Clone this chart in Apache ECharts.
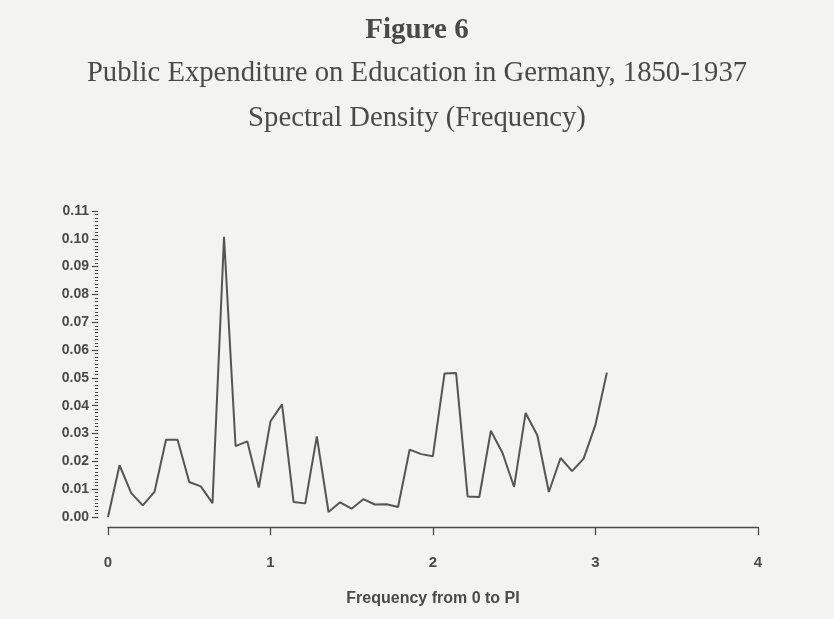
<!DOCTYPE html>
<html>
<head>
<meta charset="utf-8">
<script src="https://cdn.jsdelivr.net/npm/echarts@6/dist/echarts.min.js"></script>
<style>
  html, body { margin: 0; padding: 0; background: #f3f3f1; }
  #chart { width: 834px; height: 619px; }
</style>
</head>
<body>
<div id="chart"></div>
<script>
// Frequencies (radians, 0 to ~PI)
var frequencies = [0.000, 0.071, 0.143, 0.214, 0.286, 0.357, 0.428, 0.500, 0.571, 0.643,
  0.714, 0.785, 0.857, 0.928, 1.000, 1.071, 1.142, 1.214, 1.285, 1.357,
  1.428, 1.499, 1.571, 1.642, 1.714, 1.785, 1.856, 1.928, 1.999, 2.071,
  2.142, 2.213, 2.285, 2.356, 2.428, 2.499, 2.570, 2.642, 2.713, 2.785,
  2.856, 2.927, 2.999, 3.070];
// Spectral density values
var density = [0.0000, 0.0186, 0.0086, 0.0042, 0.0090, 0.0278, 0.0278, 0.0126, 0.0110, 0.0050,
  0.1007, 0.0255, 0.0272, 0.0106, 0.0344, 0.0405, 0.0054, 0.0049, 0.0290, 0.0018,
  0.0053, 0.0030, 0.0064, 0.0045, 0.0046, 0.0036, 0.0242, 0.0226, 0.0218, 0.0516,
  0.0518, 0.0074, 0.0072, 0.0310, 0.0230, 0.0108, 0.0374, 0.0294, 0.0090, 0.0212,
  0.0165, 0.0210, 0.0330, 0.0519];
var titleLines = ['Figure 6', 'Public Expenditure on Education in Germany, 1850-1937', 'Spectral Density (Frequency)'];
var xAxisTitle = 'Frequency from 0 to PI';

var seriesData = frequencies.map(function (f, i) { return [f, density[i]]; });
var ink = '#4a4a4a';
var serif = '"Liberation Serif", "DejaVu Serif", serif';
var sans = '"Liberation Sans", Arial, sans-serif';

var chart = echarts.init(document.getElementById('chart'), null, { renderer: 'canvas' });
chart.setOption({
  backgroundColor: '#f3f3f1',
  animation: false,
  title: [
    { text: titleLines[0], left: 'center', top: 11, textStyle: { fontFamily: serif, fontWeight: 'bold', fontSize: 29, color: ink } },
    { text: titleLines[1], left: 'center', top: 54, textStyle: { fontFamily: serif, fontWeight: 'normal', fontSize: 28.7, color: ink } },
    { text: titleLines[2], left: 'center', top: 99, textStyle: { fontFamily: serif, fontWeight: 'normal', fontSize: 28.7, color: ink } }
  ],
  grid: { left: 108, right: 76, top: 211, bottom: 102, containLabel: false },
  xAxis: {
    type: 'value', min: 0, max: 4, interval: 1,
    offset: 10,
    name: xAxisTitle, nameLocation: 'middle', nameGap: 64,
    nameTextStyle: { fontFamily: sans, fontWeight: 'bold', fontSize: 16, color: ink },
    axisLine: { show: true, onZero: false, lineStyle: { color: ink, width: 1.3 } },
    axisTick: { show: true, length: 8, lineStyle: { color: ink, width: 1.3 } },
    axisLabel: { margin: 28, fontFamily: sans, fontWeight: 'bold', fontSize: 15, color: ink },
    splitLine: { show: false }
  },
  yAxis: {
    type: 'value', min: 0, max: 0.11, interval: 0.01,
    offset: 10,
    axisLine: { show: false, onZero: false },
    axisTick: { show: true, length: 6, lineStyle: { color: ink, width: 1.2 } },
    minorTick: { show: true, splitNumber: 8, length: 3, lineStyle: { color: ink, width: 1 } },
    axisLabel: { margin: 9, fontFamily: sans, fontWeight: 'bold', fontSize: 14, color: ink,
      formatter: function (v) { return v.toFixed(2); } },
    splitLine: { show: false }
  },
  series: [{
    type: 'line',
    data: seriesData,
    showSymbol: false,
    symbol: 'none',
    lineStyle: { color: '#555555', width: 2 },
    clip: false
  }]
});
</script>
</body>
</html>
